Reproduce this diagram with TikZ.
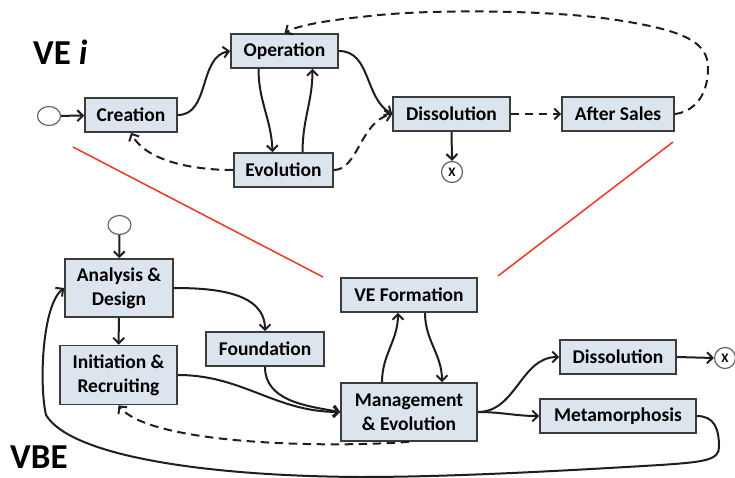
\documentclass[tikz,border=0pt]{standalone}
\usepackage{fontspec}
\setmainfont{Carlito}
\usetikzlibrary{arrows.meta,shapes.geometric}
\definecolor{boxfill}{HTML}{DCE4EE}
\definecolor{boxline}{HTML}{3C3C3C}
\definecolor{wirecol}{HTML}{1E1E1E}
\definecolor{divider}{HTML}{E8412C}
\begin{document}
\begin{tikzpicture}[x=1pt,y=1pt,
  box/.style={draw=boxline, fill=boxfill, line width=1.6pt, inner sep=0pt,
    font=\fontsize{19.5}{24}\selectfont\bfseries, align=center},
  wire/.style={draw=wirecol, line width=2pt, -{Straight Barb[length=5.5pt,width=11pt]}},
  dashwire/.style={wire, dash pattern=on 8.5pt off 5.5pt},
  startnode/.style={ellipse, draw=black!60, line width=1.2pt, fill=white,
    minimum width=23pt, minimum height=19pt, inner sep=0pt},
  endnode/.style={circle, draw=black!60, line width=1.2pt, fill=white,
    minimum size=21pt, inner sep=0pt, font=\fontsize{13}{13}\selectfont\bfseries},
  heading/.style={anchor=west, inner sep=0pt, font=\fontsize{35}{35}\selectfont\bfseries},
  divline/.style={draw=divider, line width=1.6pt},
]
\path[use as bounding box] (0,0) rectangle (735,-478);

% ---------- VE i life cycle ----------
\node[heading] (vei) at (33,-52) {VE \textit{i}};
\node[startnode] (st1) at (49,-116) {};
\node[box, minimum width=92pt, minimum height=34pt] (cre) at (131,-115) {Creation};
\node[box, minimum width=107pt, minimum height=34pt] (op) at (284.5,-51) {Operation};
\node[box, minimum width=99pt, minimum height=34pt] (evo) at (283.5,-170) {Evolution};
\node[box, minimum width=117pt, minimum height=34pt] (dis1) at (451.5,-114) {Dissolution};
\node[box, minimum width=112pt, minimum height=34pt] (as) at (618,-114) {After Sales};
\node[endnode] (x1) at (452,-172) {X};

\draw[wire] (st1) -- (cre);
\draw[wire] (cre.east) to[out=0,in=190] (op.west);
\draw[wire] ([xshift=-26pt]op.south) to[out=-90,in=92] ([xshift=-11pt]evo.north);
\draw[wire] ([xshift=19pt]evo.north) to[out=90,in=-90] ([xshift=28pt]op.south);
\draw[wire] (op.east) to[out=0,in=150] (dis1.west);
\draw[dashwire] (evo.east) .. controls (358,-170) and (360,-122) .. (dis1.west);
\draw[dashwire] (evo.west) .. controls (190,-170) and (145,-160) .. (cre.south);
\draw[wire] (dis1.south) -- (x1.north);
\draw[dashwire] (dis1.east) -- (as.west);
\draw[dashwire] (as.east) .. controls (692,-112) and (708,-98) .. (708,-68)
  .. controls (708,-42) and (685,-30) .. (610,-19)
  .. controls (545,-10) and (430,-9) .. (370,-16)
  .. controls (330,-20) and (298,-25) .. (op.north);

% ---------- dividing lines ----------
\coordinate (dl1) at (73,-147);
\coordinate (dl2) at (323,-277);
\coordinate (dr1) at (673,-142);
\coordinate (dr2) at (498,-276);
\draw[divline] (dl1) -- (dl2);
\draw[divline] (dr1) -- (dr2);

% ---------- VBE life cycle ----------
\node[heading] (vbe) at (10,-457) {VBE};
\node[startnode] (st2) at (119.5,-225) {};
\node[box, minimum width=108pt, minimum height=58pt] (ad) at (119,-288) {Analysis \&\\Design};
\node[box, minimum width=117pt, minimum height=59pt] (ir) at (118.5,-375) {Initiation \&\\Recruiting};
\node[box, minimum width=118pt, minimum height=34pt] (fo) at (265,-349) {Foundation};
\node[box, minimum width=136pt, minimum height=34pt] (vf) at (409,-295) {VE Formation};
\node[box, minimum width=136pt, minimum height=58pt] (mg) at (409,-412) {Management\\\& Evolution};
\node[box, minimum width=116pt, minimum height=34pt] (dis2) at (618,-357) {Dissolution};
\node[box, minimum width=156pt, minimum height=34pt] (meta) at (618,-416) {Metamorphosis};
\node[endnode] (x2) at (725,-358) {X};

\draw[wire] (st2) -- (ad);
\draw[wire] (ad) -- (ir);
\draw[wire] (ad.east) to[out=0,in=90] (fo.north);
\draw[wire] (ir.east) to[out=0,in=180] (mg.west);
\draw[wire] (fo.south) to[out=-90,in=170] (mg.west);
\draw[wire] ([xshift=-27pt]mg.north) to[out=90,in=-90] ([xshift=-11pt]vf.south);
\draw[wire] ([xshift=16pt]vf.south) to[out=-90,in=90] ([xshift=33pt]mg.north);
\draw[wire] (mg.east) to[out=0,in=180] (dis2.west);
\draw[wire] (mg.east) to[out=0,in=180] (meta.west);
\draw[wire] (dis2.east) -- (x2.west);
\draw[dashwire] (mg.south) .. controls (330,-448) and (150,-445) .. (ir.south);
\draw[wire] (meta.east) .. controls (714,-416) and (719,-428) .. (719,-447)
  .. controls (719,-460) and (705,-462) .. (660,-465)
  .. controls (560,-471) and (450,-477) .. (360,-477)
  .. controls (200,-476) and (70,-455) .. (46,-415)
  .. controls (39,-385) and (42,-305) .. (ad.west);
\end{tikzpicture}
\end{document}
